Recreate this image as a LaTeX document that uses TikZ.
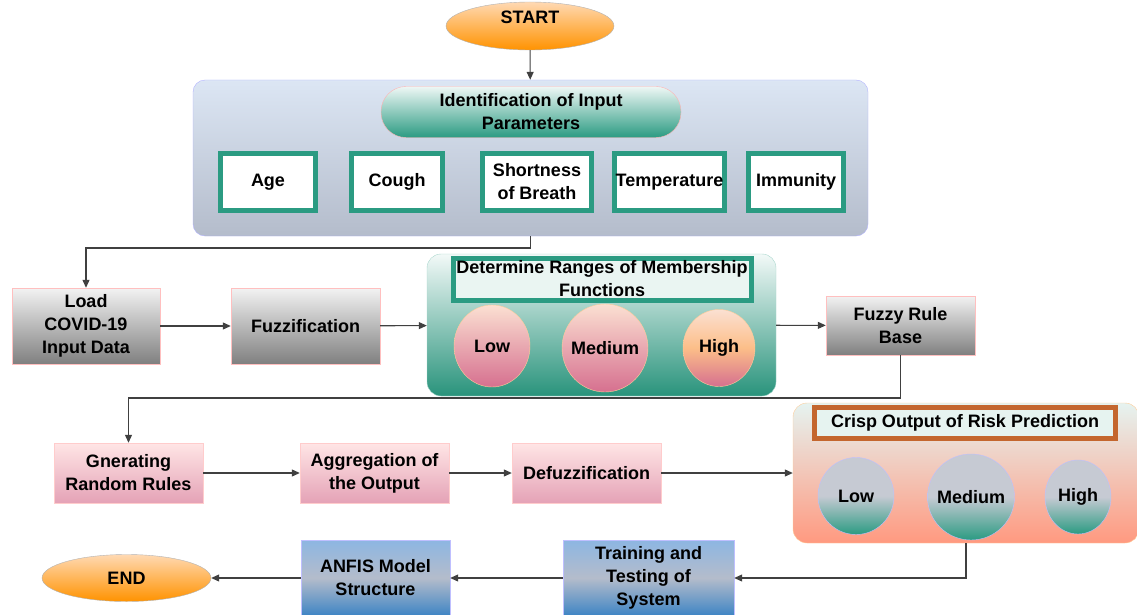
\documentclass[tikz,border=0pt]{standalone}
\usepackage{fontspec}
\setmainfont{Liberation Sans}
\usepackage{tikz}
\usetikzlibrary{arrows.meta,shapes.geometric}

\definecolor{teal1}{HTML}{2B9B82}
\definecolor{rust}{HTML}{C4662E}
\definecolor{paleblue}{HTML}{DCE6F4}
\definecolor{slate}{HTML}{B4BCCB}
\definecolor{peach}{HTML}{FBE0D2}
\definecolor{rose}{HTML}{D6708F}
\definecolor{skyb}{HTML}{8DB6E2}
\definecolor{steel}{HTML}{3D84C4}
\definecolor{ashgray}{HTML}{C6CAD3}
\pgfdeclareverticalshading{greyteal}{100bp}{color(0bp)=(teal1); color(25bp)=(teal1);
	color(50bp)=(ashgray); color(75bp)=(ashgray); color(100bp)=(ashgray)}

\begin{document}
\begin{tikzpicture}[x=1pt, y=-1pt, font=\fontsize{18}{23}\selectfont\bfseries, align=center,
		arr/.style={-{Triangle[length=8pt,width=7pt]}, line width=1.1pt, draw=black!75},
		term/.style={ellipse, draw=black!30, top color=orange!30, bottom color=orange!85!yellow, inner sep=0pt},
		graybox/.style={draw=red!25, top color=black!5, bottom color=black!50, inner sep=2pt},
		pinkbox/.style={draw=red!20, top color=red!10!white, bottom color=rose!65, inner sep=2pt},
		bluebox/.style={draw=blue!25, top color=skyb, bottom color=steel, middle color=slate, inner sep=2pt},
		parbox/.style={draw=teal1, line width=5pt, fill=white, minimum height=57pt, inner sep=0pt},
		mfin/.style={ellipse, draw=orange!40, top color=peach, bottom color=rose},
		mfout/.style={ellipse, draw=blue!25, shading=greyteal}]
	\useasboundingbox (0,0) rectangle (1137,615);
	% top part
	\node[term, minimum width=168pt, minimum height=48pt, text height=13pt, text depth=18pt] (start) at (530,26) {START};
	\node[draw=blue!30, rounded corners=12pt, top color=paleblue, middle color=white, bottom color=slate,
		minimum width=675pt, minimum height=156pt] (inp) at (530.5,158) {};
	\node[draw=red!30, rounded corners=25pt, top color=teal1!8, bottom color=teal1, minimum width=300pt, minimum height=51pt]
		(ident) at (531,112) {Identification of Input\\Parameters};
	\begin{scope}[every node/.style={parbox}]
		\node[minimum width=95pt] (age) at (268,182) {Age};
		\node[minimum width=91pt] (cough) at (397,182) {Cough};
		\node[minimum width=109pt] (sob) at (537,182) {Shortness\\of Breath};
		\node[minimum width=110pt] (temp) at (669.5,182) {Temperature};
		\node[minimum width=95pt] (imm) at (796,182) {Immunity};
	\end{scope}
	% fuzzification row
	\node[graybox, minimum width=148pt, minimum height=76pt] (load) at (86,326) {Load\\COVID-19\\Input Data};
	\node[graybox, minimum width=149pt, minimum height=76pt] (fuzz) at (305.5,326) {Fuzzification};
	\node[draw=teal1!40, rounded corners=14pt, top color=teal1!6, middle color=teal1!40, bottom color=teal1!95!black,
		minimum width=349pt, minimum height=142pt] (memb) at (601.5,325) {};
	\node[draw=teal1, line width=5pt, fill=teal1!10, minimum width=298pt, minimum height=42pt, inner sep=0pt]
		(rng) at (602,279) {Determine Ranges of Membership\\Functions};
	\node[mfin, minimum width=76pt, minimum height=82pt] (lo1) at (492,346) {};
	\node[mfin, minimum width=86pt, minimum height=88pt] (me1) at (605,348) {};
	\node[mfin, minimum width=72pt, minimum height=77pt, middle color=orange!35!peach] (hi1) at (719,348) {};
	\node at (lo1) {Low};
	\node at (me1) {Medium};
	\node at (hi1) {High};
	\node[graybox, minimum width=149pt, minimum height=59pt] (frb) at (900.5,325.5) {Fuzzy Rule\\Base};
	% rules row
	\node[pinkbox, minimum width=149pt, minimum height=60pt] (gen) at (128.5,473) {Gnerating\\Random Rules};
	\node[pinkbox, minimum width=149pt, minimum height=60pt] (agg) at (374.5,473) {Aggregation of\\the Output};
	\node[pinkbox, minimum width=149pt, minimum height=60pt] (defz) at (586.5,473) {Defuzzification};
	\node[draw=orange!40, rounded corners=14pt, top color=teal1!12, middle color=white, bottom color=orange!40!red!50,
		minimum width=346pt, minimum height=140pt] (crisp) at (966,473) {};
	\node[draw=rust, line width=5pt, fill=teal1!12, minimum width=301pt, minimum height=31pt, inner sep=0pt]
		(cop) at (965,422.5) {Crisp Output of Risk Prediction};
	\node[mfout, minimum width=76pt, minimum height=77pt] (lo2) at (856,496) {};
	\node[mfout, minimum width=87pt, minimum height=86pt] (me2) at (971,497) {};
	\node[mfout, minimum width=66pt, minimum height=74pt] (hi2) at (1078,497) {};
	\node at (lo2) {Low};
	\node at (me2) {Medium};
	\node at (hi2) {High};
	% last row
	\node[bluebox, minimum width=171pt, minimum height=76pt] (train) at (648.5,578) {Training and\\Testing of\\System};
	\node[bluebox, minimum width=149pt, minimum height=76pt] (anfis) at (375.5,578) {ANFIS Model\\Structure};
	\node[term, minimum width=169pt, minimum height=47pt] (end) at (126.5,578) {END};
	% connectors
	\coordinate (k1) at (530.5,248);
	\coordinate (k2) at (900.5,398);
	\draw[arr] (start) -- (inp);
	\draw[arr] (inp.south) -- (k1) -| (load);
	\draw[arr] (load) -- (fuzz);
	\draw[arr] (fuzz) -- (memb);
	\draw[arr] (memb) -- (frb);
	\draw[arr] (frb.south) -- (k2) -| (gen);
	\draw[arr] (gen) -- (agg);
	\draw[arr] (agg) -- (defz);
	\draw[arr] (defz) -- (crisp);
	\draw[arr] (crisp.south) |- (train);
	\draw[arr] (train) -- (anfis);
	\draw[arr] (anfis) -- (end);
\end{tikzpicture}
\end{document}
